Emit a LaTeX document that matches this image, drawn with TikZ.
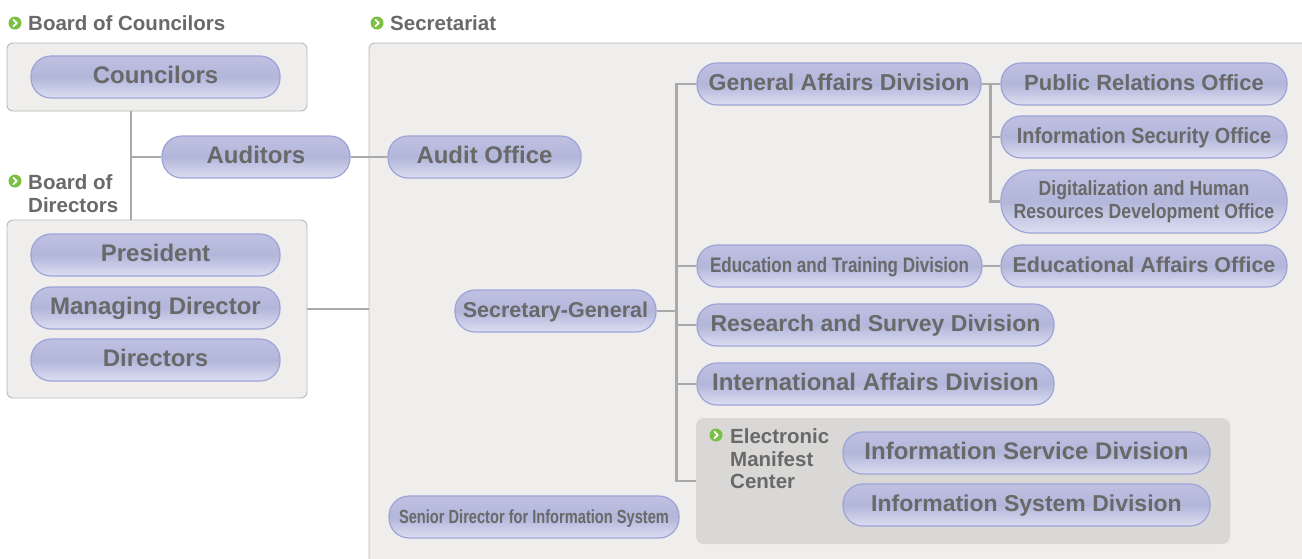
\documentclass[tikz,border=0pt]{standalone}
\usepackage{fontspec}
\setmainfont{Liberation Sans}
\newfontfamily\narrowsans{Liberation Sans}[FakeStretch=0.81]
\newfontfamily\tightsans{Liberation Sans}[FakeStretch=0.77]
\newfontfamily\slimsans{Liberation Sans}[FakeStretch=0.9]
\newfontfamily\digisans{Liberation Sans}[FakeStretch=0.86]
\definecolor{textgray}{HTML}{696969}
\definecolor{wiregray}{HTML}{A9A9A9}
\definecolor{panelfill}{HTML}{EFEEEC}
\definecolor{panelline}{HTML}{B9B9B9}
\definecolor{centerfill}{HTML}{D9D8D6}
\definecolor{pillline}{HTML}{9DA3D6}
\definecolor{pilltop}{HTML}{BEC1E1}
\definecolor{pillmid}{HTML}{B2B6DA}
\definecolor{pillbottom}{HTML}{DCDEF1}
\definecolor{markgreen}{HTML}{7CC043}
\begin{document}
\begin{tikzpicture}
    [x=1pt,y=-1pt,
    wire/.style={draw=wiregray, line width=2.6pt},
    panel/.style={draw=panelline, fill=panelfill, line width=0.9pt,
      rounded corners=6pt, inner sep=0pt},
    pill/.style={draw=pillline, line width=1.2pt, rounded corners=20pt,
      top color=pilltop, bottom color=pillbottom, middle color=pillmid,
      text=textgray, font=\fontsize{23}{26}\selectfont\bfseries,
      text height=18pt, text depth=5pt,
      minimum height=42pt, inner sep=0pt, align=center},
    big/.style={font=\fontsize{24}{26}\selectfont\bfseries},
    heading/.style={text=textgray, font=\fontsize{20.5}{22.5}\selectfont\bfseries,
      inner sep=0pt, align=left},
    greenmark/.pic={
      \fill[markgreen] (0,0) circle (6.5);
      \draw[white, line width=1.8pt, line cap=round, line join=round]
        (-1.6,-3.2) -- (1.8,0) -- (-1.6,3.2);
    }]
    \useasboundingbox (0,0) rectangle (1302,558);
    \clip (0,0) rectangle (1302,558);
    \fill[white] (0,0) rectangle (1302,558);

    % headings
    \pic at (15,23) {greenmark};
    \node[heading, anchor=base west] (hcoun) at (28,30.5) {Board of Councilors};
    \pic at (15,181) {greenmark};
    \node[heading, anchor=north west] (hdir) at (28,174.5) {Board of\\Directors};
    \pic at (377,23) {greenmark};
    \node[heading, anchor=base west] (hsec) at (390,30.5) {Secretariat};

    % panels
    \node[panel, minimum width=300pt, minimum height=68pt] (boc) at (157,77) {};
    \node[panel, minimum width=300pt, minimum height=178pt] (bod) at (157,309) {};
    \node[panel, minimum width=980pt, minimum height=560pt] (sec) at (859,323) {};
    \node[panel, draw=none, fill=centerfill, rounded corners=8pt,
      minimum width=534pt, minimum height=126pt] (emc) at (963,481) {};
    \pic at (716,435) {greenmark};
    \node[heading, anchor=north west] (hemc) at (730,428.5) {Electronic\\Manifest\\Center};

    % boards
    \node[pill, big, minimum width=249pt] (coun) at (155.5,77) {Councilors};
    \node[pill, big, minimum width=188pt] (aud) at (256,157) {Auditors};
    \node[pill, big, minimum width=249pt] (pres) at (155.5,255) {President};
    \node[pill, big, minimum width=249pt] (mgd) at (155.5,308) {Managing Director};
    \node[pill, big, minimum width=249pt] (dirs) at (155.5,360) {Directors};

    % secretariat
    \node[pill, big, minimum width=193pt] (ao) at (484.5,157) {Audit Office};
    \node[pill, minimum width=201pt, font=\fontsize{21.5}{24}\selectfont\bfseries] (sg) at (555.5,311) {Secretary-General};
    \node[pill, minimum width=290pt, font=\fontsize{19}{22}\tightsans\bfseries] (sdis) at (534,517) {Senior Director for Information System};
    \node[pill, minimum width=284pt] (gad) at (839,84) {General Affairs Division};
    \node[pill, minimum width=285pt, font=\fontsize{21}{24}\narrowsans\bfseries] (etd) at (839.5,266) {Education and Training Division};
    \node[pill, minimum width=357pt] (rsd) at (875.5,325) {Research and Survey Division};
    \node[pill, big, minimum width=357pt] (iad) at (875.5,384) {International Affairs Division};
    \node[pill, minimum width=286pt, font=\fontsize{22}{25}\selectfont\bfseries] (pro) at (1144,84) {Public Relations Office};
    \node[pill, minimum width=286pt, font=\fontsize{22}{25}\slimsans\bfseries] (iso) at (1144,137) {Information Security Office};
    \node[pill, minimum width=286pt, minimum height=63pt, rounded corners=30pt,
      text height={}, text depth={},
      font=\fontsize{20.5}{23.5}\digisans\bfseries] (dhr) at (1144,201.5) {Digitalization and Human\\Resources Development Office};
    \node[pill, minimum width=286pt, font=\fontsize{21.5}{25}\selectfont\bfseries] (eao) at (1144,266) {Educational Affairs Office};
    \node[pill, big, minimum width=367pt] (isvd) at (1026.5,453) {Information Service Division};
    \node[pill, minimum width=367pt] (isyd) at (1026.5,505) {Information System Division};

    % connectors
    \draw[wire] ([xshift=-26pt]boc.south) coordinate (cs) -- (cs |- bod.north);
    \draw[wire] (aud.west) -- (aud.west -| cs);
    \draw[wire] (aud) -- (ao);
    \draw[wire] (bod.east) -- (bod.east -| sec.west);
    \draw[wire] (sg.east) -- ++(20,0) coordinate (trunk);
    \draw[wire] (gad.west) -| (trunk |- emc.west) -- (emc.west);
    \foreach \n in {etd,rsd,iad}
      \draw[wire] (trunk |- \n.west) -- (\n.west);
    \draw[wire] (gad.east) -- ++(9,0) coordinate (gab) |- (dhr.west);
    \draw[wire] (gab |- pro.west) -- (pro.west);
    \draw[wire] (gab |- iso.west) -- (iso.west);
    \draw[wire] (etd) -- (eao);
\end{tikzpicture}
\end{document}
